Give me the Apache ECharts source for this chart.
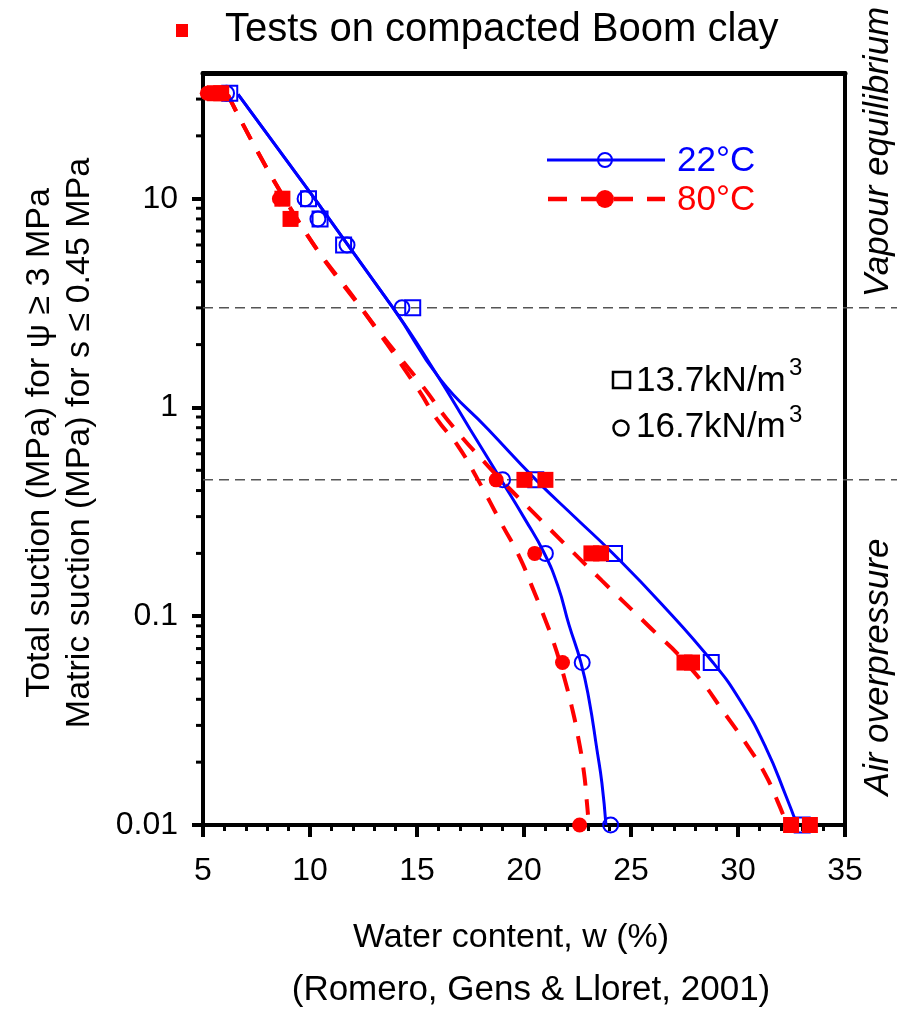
<!DOCTYPE html>
<html><head><meta charset="utf-8">
<script src="https://cdn.jsdelivr.net/npm/echarts@6/dist/echarts.min.js"></script>
<style>html,body{margin:0;padding:0;background:#fff}#c{width:897px;height:1010px}</style>
</head><body><div id="c"></div>
<script>
// ---- data: [water content w (%), suction (MPa)] ----
const blueSquares = [[6.25,32],[9.93,10],[10.47,8],[11.57,6],[14.8,3],[20.55,0.45],[24.23,0.2],[28.75,0.06],[33.0,0.01]];
const blueCircles = [[6.1,32],[9.77,10],[10.37,8],[11.73,6],[14.3,3],[19.0,0.45],[21.0,0.2],[22.72,0.06],[24.05,0.01]];
const redSquares = [[5.55,32],[5.85,32],[8.71,10],[9.09,8],[20.02,0.45],[21.0,0.45],[23.15,0.2],[23.6,0.2],[27.5,0.06],[27.85,0.06],[32.48,0.01],[33.36,0.01]];
const redCircles = [[5.2,32],[8.57,10],[18.7,0.45],[20.5,0.2],[21.8,0.06],[22.6,0.01]];

const blueCurveLeft = [[6.64,31.6],[13.88,3.0],[15.9,1.45],[17.48,0.787],[18.93,0.45],[20.05,0.291],[20.93,0.202],[21.59,0.139],[22.10,0.0912],[22.66,0.06],[23.04,0.0398],[23.41,0.0229],[23.64,0.0159],[23.83,0.01]];
const blueCurveRight = [[6.64,31.6],[13.88,3.0],[16.07,1.37],[18.32,0.787],[20.56,0.45],[22.38,0.298],[24.11,0.202],[26.45,0.1138],[28.83,0.06],[30.1,0.0395],[31.3,0.0235],[32.25,0.0137],[32.76,0.01]];
const redCurveLeft = [[6.17,31.3],[9.39,8.0],[12.66,2.75],[15.05,1.224],[15.93,0.879],[16.92,0.653],[17.85,0.45],[18.97,0.275],[19.77,0.194],[20.37,0.139],[20.93,0.1],[21.45,0.0716],[21.87,0.0513],[22.24,0.0365],[22.52,0.0267],[22.8,0.0179],[22.94,0.0128],[22.99,0.0112]];
const redCurveRight = [[6.17,31.3],[9.39,8.0],[12.66,2.75],[15.37,1.224],[16.4,0.879],[18.32,0.524],[20.42,0.315],[23.64,0.148],[25.7,0.0923],[27.85,0.0555],[29.49,0.033],[30.51,0.0234],[31.26,0.0176],[31.82,0.0132],[32.25,0.0103]];

const zoneLimits = [3, 0.45];
const yMinorTicks = [0.02,0.03,0.04,0.05,0.06,0.07,0.08,0.09,0.2,0.3,0.4,0.5,0.6,0.7,0.8,0.9,2,3,4,5,6,7,8,9,20,30];
const xMin = 5, xMax = 35, xStep = 5;
const yMin = 0.01, yMax = 40;

const FONT = 'Liberation Sans, Arial, Helvetica, sans-serif';
const BLUE = '#0000ff', RED = '#ff0000';

const chart = echarts.init(document.getElementById('c'), null, {renderer: 'canvas'});

function curve(data, color, dashed) {
  return {
    type: 'line', data: data, smooth: 0.5, showSymbol: false, symbol: 'none', silent: true, z: 2,
    lineStyle: {color: color, width: dashed ? 4 : 3, type: dashed ? [18, 14] : 'solid'}
  };
}
function markers(data, symbol, size, filled, color, z) {
  return {
    type: 'scatter', data: data, symbol: symbol, symbolSize: size, silent: true, z: z,
    itemStyle: filled ? {color: color, borderWidth: 0, opacity: 1} : {color: 'rgba(255,255,255,0)', borderColor: color, borderWidth: 2, opacity: 1}
  };
}
function txt(x, y, text, size, color, extra, rotation) {
  return {type: 'text', x: x, y: y, rotation: rotation || 0,
    style: Object.assign({text: text, fontSize: size, fontFamily: FONT, fill: color, align: 'left', verticalAlign: 'middle'}, extra || {})};
}

chart.setOption({
  animation: false,
  backgroundColor: '#fff',
  grid: {left: 203, right: 52, top: 73, bottom: 185, containLabel: false},
  xAxis: [{
    type: 'value', min: xMin, max: xMax, interval: xStep, position: 'bottom',
    axisLine: {onZero: false, lineStyle: {color: '#000', width: 4}},
    axisTick: {inside: false, length: 12, lineStyle: {color: '#000', width: 4}},
    minorTick: {show: true, splitNumber: 5, length: 6, lineStyle: {color: '#000', width: 3}},
    splitLine: {show: false},
    axisLabel: {fontSize: 32, color: '#000', fontFamily: FONT, margin: 30}
  }, {
    type: 'value', min: xMin, max: xMax, position: 'top',
    axisLine: {onZero: false, lineStyle: {color: '#000', width: 5}},
    axisTick: {show: false}, axisLabel: {show: false}, splitLine: {show: false}
  }],
  yAxis: [{
    type: 'log', logBase: 10, min: yMin, max: yMax, position: 'left',
    axisLine: {onZero: false, lineStyle: {color: '#000', width: 4}},
    axisTick: {inside: false, length: 11, lineStyle: {color: '#000', width: 4}},
    splitLine: {show: false},
    axisLabel: {fontSize: 32, color: '#000', fontFamily: FONT, margin: 25, showMaxLabel: false,
      formatter: v => String(+v.toPrecision(6))}
  }, {
    type: 'log', logBase: 10, min: yMin, max: yMax, position: 'right',
    axisLine: {onZero: false, lineStyle: {color: '#000', width: 4}},
    axisTick: {show: false}, axisLabel: {show: false}, splitLine: {show: false}
  }],
  series: [
    {
      type: 'custom', silent: true, z: 1,
      data: zoneLimits.map(v => [xMin, v]),
      renderItem: (params, api) => {
        const p = api.coord([api.value(0), api.value(1)]);
        return {type: 'line', shape: {x1: p[0], y1: p[1], x2: api.getWidth(), y2: p[1]},
          style: {stroke: '#555', lineWidth: 1.5, lineDash: [10, 6]}};
      }
    },
    {
      type: 'custom', silent: true, z: 3,
      data: yMinorTicks.map(v => [xMin, v]),
      renderItem: (params, api) => {
        const p = api.coord([api.value(0), api.value(1)]);
        return {type: 'line', shape: {x1: p[0] - 7, y1: p[1], x2: p[0], y2: p[1]},
          style: {stroke: '#000', lineWidth: 3}};
      }
    },
    curve(blueCurveLeft, BLUE, false),
    curve(blueCurveRight, BLUE, false),
    curve(redCurveLeft, RED, true),
    curve(redCurveRight, RED, true),
    markers(blueSquares, 'rect', 15, false, BLUE, 4),
    markers(blueCircles, 'circle', 15, false, BLUE, 4),
    markers(redSquares, 'rect', 16, true, RED, 5),
    markers(redCircles, 'circle', 15, true, RED, 5)
  ],
  graphic: [
    {type: 'rect', shape: {x: 176, y: 24, width: 12, height: 13}, style: {fill: RED}},
    txt(225, 30, 'Tests on compacted Boom clay', 40, '#000'),
    // legend: temperature
    {type: 'line', shape: {x1: 547, y1: 160, x2: 665, y2: 160}, style: {stroke: BLUE, lineWidth: 3}},
    {type: 'circle', shape: {cx: 605, cy: 160, r: 7}, style: {fill: 'none', stroke: BLUE, lineWidth: 2}},
    txt(677, 161, '22°C', 35, BLUE),
    {type: 'line', shape: {x1: 548, y1: 199, x2: 665, y2: 199}, style: {stroke: RED, lineWidth: 4.5, lineDash: [19, 14]}},
    {type: 'circle', shape: {cx: 605, cy: 199, r: 9}, style: {fill: RED}},
    txt(677, 200, '80°C', 35, RED),
    // legend: dry density
    {type: 'rect', shape: {x: 613, y: 372, width: 17, height: 16}, style: {fill: 'none', stroke: '#000', lineWidth: 2.5}},
    txt(636, 381, '13.7kN/m', 35, '#000'),
    txt(789, 368, '3', 24, '#000'),
    {type: 'circle', shape: {cx: 621, cy: 428, r: 7.5}, style: {fill: 'none', stroke: '#000', lineWidth: 2.5}},
    txt(636, 427, '16.7kN/m', 35, '#000'),
    txt(789, 415, '3', 24, '#000'),
    // axis titles
    txt(60, 443, 'Total suction (MPa) for ψ ≥ 3 MPa\nMatric suction (MPa) for s ≤ 0.45 MPa', 34, '#000', {align: 'center', lineHeight: 40}, Math.PI / 2),
    txt(511, 938, 'Water content, w (%)', 34, '#000', {align: 'center'}),
    txt(531, 990, '(Romero, Gens & Lloret, 2001)', 35, '#000', {align: 'center'}),
    // zone labels
    txt(878, 152, 'Vapour equilibrium', 35, '#000', {align: 'center', fontStyle: 'italic'}, Math.PI / 2),
    txt(878, 667, 'Air overpressure', 35, '#000', {align: 'center', fontStyle: 'italic'}, Math.PI / 2)
  ]
});
</script>
</body></html>
